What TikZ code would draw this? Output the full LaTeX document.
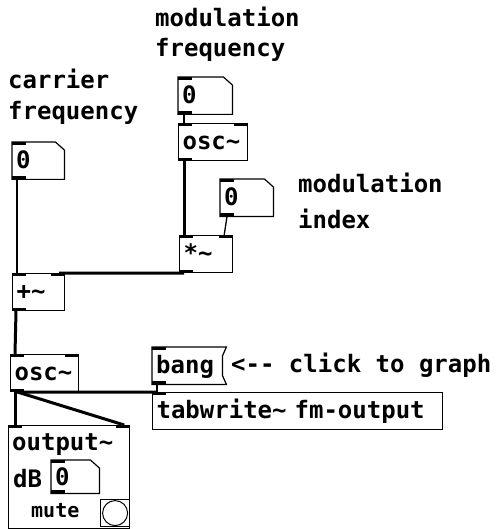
\documentclass[tikz,border=0pt]{standalone}
\usepackage{fontspec}
\newfontfamily\pdmono{DejaVu Sans Mono}
\tikzset{
  pdfont/.style={font=\pdmono\bfseries\fontsize{24pt}{29pt}\selectfont},
  objbox/.style={pdfont, draw, line width=1.2pt, fill=white, anchor=north west,
    inner xsep=4pt, inner ysep=0pt, text height=19.5pt, text depth=4.5pt,
    minimum height=37pt, align=left},
  numbox/.style={pdfont, anchor=north west, inner xsep=4pt, inner ysep=0pt,
    text height=19.5pt, text depth=4.5pt, minimum height=37pt, align=left},
  cmt/.style={pdfont, anchor=base west, inner sep=0pt},
  sig/.style={line width=3pt},
  ctl/.style={line width=1.3pt},
  border/.style={line width=1.2pt},
}
\newcommand\pdnumoutline[1]{\draw[border] (#1.north west) -- ([xshift=-9pt]#1.north east) -- ([yshift=-8pt]#1.north east) -- (#1.south east) -- (#1.south west) -- cycle;}
\newcommand\pdinl[1]{\fill (#1.north west) rectangle ([xshift=14pt,yshift=-3pt]#1.north west);}
\newcommand\pdinr[1]{\fill (#1.north east) rectangle ([xshift=-14pt,yshift=-3pt]#1.north east);}
\newcommand\pdoutl[1]{\fill (#1.south west) rectangle ([xshift=14pt,yshift=3pt]#1.south west);}
\begin{document}
\begin{tikzpicture}[x=1pt,y=-1pt]
\useasboundingbox[fill=white] (0,0) rectangle (503,529);

% comments
\node[cmt] (mf1) at (155,27) {modulation};
\node[cmt] (mf2) at (155,57) {frequency};
\node[cmt] (cf1) at (8,89) {carrier};
\node[cmt] (cf2) at (8,120) {frequency};
\node[cmt] (mi1) at (298,193) {modulation};
\node[cmt] (mi2) at (298,228) {index};
\node[cmt] (click) at (231,372) {<-{}- click to graph};

% boxes
\node[numbox, text width=44pt] (cnum) at (12,142) {0};
\node[numbox, text width=46pt] (mnum) at (178,77) {0};
\node[objbox, text width=61pt] (mosc) at (178,123) {osc\char`~};
\node[numbox, text width=45pt] (inum) at (220,179) {0};
\node[objbox, text width=45pt] (mul) at (179,235) {*\char`~};
\node[objbox, text width=44pt] (add) at (12,273) {+\char`~};
\node[objbox, text width=60pt] (osc) at (10,354) {osc\char`~};
\node[numbox, text width=62pt] (bang) at (152,347) {bang};
\node[objbox, text width=282pt] (tab) at (152,392) {tabwrite\char`~{} fm-output};
\node[draw, border, anchor=north west, minimum width=121pt, minimum height=103pt, inner sep=0pt] (out) at (8,425) {};
\node[cmt] (outtxt) at (12,450) {output\char`~};
\node[cmt] (dbtxt) at (13,487) {dB};
\node[numbox, text width=40pt, minimum height=33pt, text height=21pt, text depth=3pt] (dbnum) at (51,460) {0};
\node[cmt, font=\pdmono\bfseries\fontsize{20pt}{24pt}\selectfont] (mute) at (31,517) {mute};
\node[draw, border, anchor=north west, minimum width=29pt, minimum height=27pt, inner sep=0pt] (tgl) at (100,499) {};
\draw[line width=1pt] (tgl.center) circle (12.5pt);

% outlines of number and message boxes
\pdnumoutline{cnum}
\pdnumoutline{mnum}
\pdnumoutline{inum}
\pdnumoutline{dbnum}
\draw[border] (bang.north west) -- ([xshift=4pt]bang.north east) -- ([yshift=-9pt]bang.north east)
  -- ([yshift=9pt]bang.south east) -- ([xshift=4pt]bang.south east) -- (bang.south west) -- cycle;

% connections
\draw[ctl] ([xshift=5pt]cnum.south west) -- ([xshift=5pt]add.north west);
\draw[ctl] ([xshift=6pt]mnum.south west) -- ([xshift=6pt]mosc.north west);
\draw[sig] ([xshift=6pt]mosc.south west) -- ([xshift=5pt]mul.north west);
\draw[ctl] ([xshift=7pt]inum.south west) -- ([xshift=-9pt]mul.north east);
\draw[sig] ([xshift=5pt]mul.south west) -- ([xshift=-6pt]add.north east);
\draw[sig] ([xshift=4pt]add.south west) -- ([xshift=5pt]osc.north west);
\draw[sig] ([xshift=5pt]osc.south west) -- ([xshift=7pt]out.north west);
\draw[sig] ([xshift=8pt]osc.south west) -- ([xshift=-6pt]out.north east);
\draw[sig] ([xshift=5pt]osc.south west) -- ([xshift=5pt]tab.north west);
\draw[ctl] ([xshift=5pt]bang.south west) -- ([xshift=5pt]tab.north west);

% inlets and outlets
\foreach \n in {cnum,mnum,inum,dbnum,bang,tab,mosc,mul,add,osc,out} {\pdinl{\n}}
\foreach \n in {mosc,mul,add,osc,out} {\pdinr{\n}}
\foreach \n in {cnum,mnum,inum,dbnum,bang,mosc,mul,add,osc} {\pdoutl{\n}}
\end{tikzpicture}
\end{document}
